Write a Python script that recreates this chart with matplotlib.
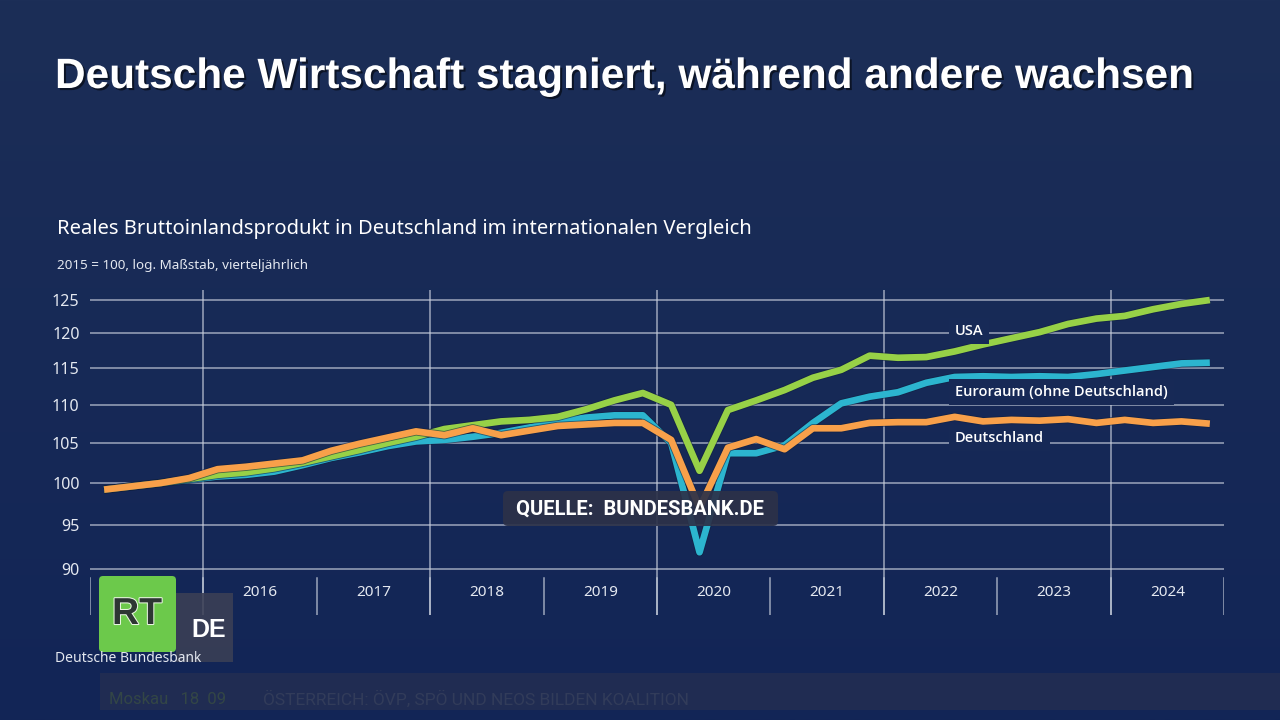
import matplotlib.pyplot as plt
import matplotlib.patheffects as pe
from matplotlib.patches import FancyBboxPatch, Rectangle
import numpy as np

# quarterly series, 2015 = 100
quarters = [f"{y}Q{q}" for y in range(2015, 2025) for q in range(1, 5)]

deutschland = [99.2, 99.6, 100.0, 100.6, 101.7, 102.0, 102.4, 102.8,
               104.0, 104.9, 105.7, 106.5, 106.0, 106.9, 106.0, 106.6,
               107.2, 107.4, 107.6, 107.6, 105.4, 97.0, 104.4, 105.5,
               104.2, 106.9, 106.9, 107.6, 107.7, 107.7, 108.4, 107.8,
               108.0, 107.9, 108.1, 107.6, 108.0, 107.6, 107.8, 107.5]

euroraum = [99.2, 99.6, 100.0, 100.4, 100.8, 101.0, 101.4, 102.2,
            103.1, 103.8, 104.6, 105.2, 105.4, 105.8, 106.3, 107.0,
            107.8, 108.3, 108.6, 108.6, 105.0, 91.9, 103.7, 103.7,
            104.7, 107.6, 110.2, 111.1, 111.7, 113.0, 113.8, 113.9,
            113.8, 113.9, 113.8, 114.2, 114.7, 115.2, 115.7, 115.8]

usa = [99.2, 99.6, 100.0, 100.5, 101.0, 101.3, 101.8, 102.5,
       103.3, 104.1, 105.0, 105.8, 106.8, 107.3, 107.8, 108.0,
       108.4, 109.4, 110.6, 111.6, 110.0, 101.5, 109.3, 110.6,
       112.0, 113.7, 114.8, 116.8, 116.5, 116.6, 117.4, 118.4,
       119.3, 120.2, 121.4, 122.2, 122.6, 123.6, 124.4, 125.0]

# 2015 label sits under the RT logo in the original, so only 2016..2024 show
year_labels = [str(y) for y in range(2016, 2025)]
y_ticks = [90, 95, 100, 105, 110, 115, 120, 125]

BG_TOP = np.array([28, 46, 87]) / 255
BG_BOT = np.array([18, 37, 86]) / 255
GRID = "#c9cfdc"
TXT = "#e4e8f0"


def qpos(label):
    return int(label[:4]) + (int(label[-1]) - 0.5) / 4


def bg_at(py):
    # background colour at pixel row py
    return tuple(BG_TOP + (BG_BOT - BG_TOP) * (py / 720))


x = np.array([qpos(q) for q in quarters])

fig = plt.figure(figsize=(12.8, 7.2), dpi=100)
fig.patch.set_facecolor(bg_at(360))

# subtle vertical gradient in the background
bg = fig.add_axes([0, 0, 1, 1], zorder=-5)
grad = np.linspace(0, 1, 256).reshape(-1, 1)
img = BG_TOP + (BG_BOT - BG_TOP) * grad[:, :, None]
bg.imshow(img, aspect="auto", extent=[0, 1, 0, 1])
bg.axis("off")

# main plot area: 90..1224 px wide, 290..615 px tall
ax = fig.add_axes([90 / 1280, 105 / 720, 1134 / 1280, 325 / 720])
ax.set_facecolor("none")
ax.set_yscale("log")
k = 183 / np.log10(1.25)  # px per log-decade, 100 at y=483, 125 at y=300
ax.set_ylim(100 * 10 ** ((483 - 615) / k), 100 * 10 ** ((483 - 290) / k))
ax.set_xlim(2015, 2025)

for s in ax.spines.values():
    s.set_visible(False)
ax.set_xticks([])
ax.set_yticks(y_ticks)
ax.set_yticks([], minor=True)
ax.set_yticklabels([str(v) for v in y_ticks])
ax.tick_params(axis="y", length=0, pad=7.5, labelsize=11.5, labelcolor=TXT)
for lab in ax.get_yticklabels():
    lab.set_family("Noto Sans")

ax.grid(axis="y", color=GRID, lw=1.1, alpha=0.75)
for yr in range(2016, 2025, 2):
    ax.axvline(yr, color=GRID, lw=1.1, alpha=0.75)
for yr in range(2015, 2026):
    ax.axvline(yr, ymin=0, ymax=37 / 325, color=GRID, lw=1.1, alpha=0.75)
for lab in year_labels:
    ax.text(int(lab) + 0.5, 23 / 325, lab, transform=ax.get_xaxis_transform(),
            ha="center", va="center", fontsize=11, color=TXT, family="Noto Sans")

series = [(euroraum, "#2cb5cf"), (usa, "#97d147"), (deutschland, "#f8a04a")]
for vals, col in series:
    ax.plot(x, vals, color=col, lw=4.8, solid_joinstyle="round", solid_capstyle="butt",
            path_effects=[pe.Stroke(linewidth=6.0, foreground="#10203f", alpha=0.6), pe.Normal()])

lx = 2015 + (955 - 90) / 113.4
for txt, py in [("USA", 331), ("Euroraum (ohne Deutschland)", 392), ("Deutschland", 438)]:
    ax.text(lx, 100 * 10 ** ((483 - py) / k), txt, ha="left", va="center", fontsize=10.5,
            color="white", weight="semibold", family="Open Sans",
            bbox=dict(boxstyle="square,pad=0.4", fc=bg_at(py), ec="none"))

# overlay in pixel coordinates for titles, source box, logo and ticker
ov = fig.add_axes([0, 0, 1, 1], zorder=5)
ov.set_xlim(0, 1280)
ov.set_ylim(720, 0)
ov.axis("off")

ov.text(55, 77, "Deutsche Wirtschaft stagniert, während andere wachsen", ha="left", va="center",
        fontsize=30.5, weight="bold", family="Liberation Sans", color="white",
        path_effects=[pe.withSimplePatchShadow(offset=(1.5, -1.5), shadow_rgbFace="black", alpha=0.55)])
ov.text(57, 229, "Reales Bruttoinlandsprodukt in Deutschland im internationalen Vergleich",
        ha="left", va="center", fontsize=14.5, color="white", family="Noto Sans")
ov.text(57, 266, "2015 = 100, log. Maßstab, vierteljährlich", ha="left", va="center",
        fontsize=9.7, color=TXT, family="Noto Sans")

ov.text(55, 658, "Deutsche Bundesbank", ha="left", va="center", fontsize=10, color=TXT, family="Noto Sans")

# source box
ov.add_patch(FancyBboxPatch((503, 491), 275, 35, boxstyle="round,pad=0,rounding_size=5",
                            fc="#2c3148", ec="none", alpha=0.92))
ov.text(516, 509, "QUELLE:  BUNDESBANK.DE", ha="left", va="center", fontsize=14.5,
        weight="bold", family="Roboto", color="white")

# RT DE logo
ov.add_patch(Rectangle((176, 593), 57, 69, fc="#3a3f55", ec="none", alpha=0.9))
ov.text(209, 630, "DE", ha="center", va="center", fontsize=18, weight="black",
        family="Liberation Sans", color="white")
ov.add_patch(FancyBboxPatch((99, 576), 77, 76, boxstyle="round,pad=0,rounding_size=4",
                            fc="#6cc94b", ec="none"))
ov.text(137, 614, "RT", ha="center", va="center", fontsize=27, weight="black",
        family="Liberation Sans", color="#2d3633",
        path_effects=[pe.withStroke(linewidth=1.5, foreground="#e8f5e0")])

# news ticker
ov.add_patch(Rectangle((100, 673), 1180, 37, fc="#2a3150", ec="none", alpha=0.6))
ov.text(109, 699, "Moskau   18  09", ha="left", va="center", fontsize=12,
        family="Roboto", color="#334646")
ov.text(263, 699, "ÖSTERREICH: ÖVP, SPÖ UND NEOS BILDEN KOALITION", ha="left", va="center",
        fontsize=12.5, family="Roboto", color="#323c5a")

fig.savefig("out.png", dpi=100, facecolor=fig.get_facecolor())
